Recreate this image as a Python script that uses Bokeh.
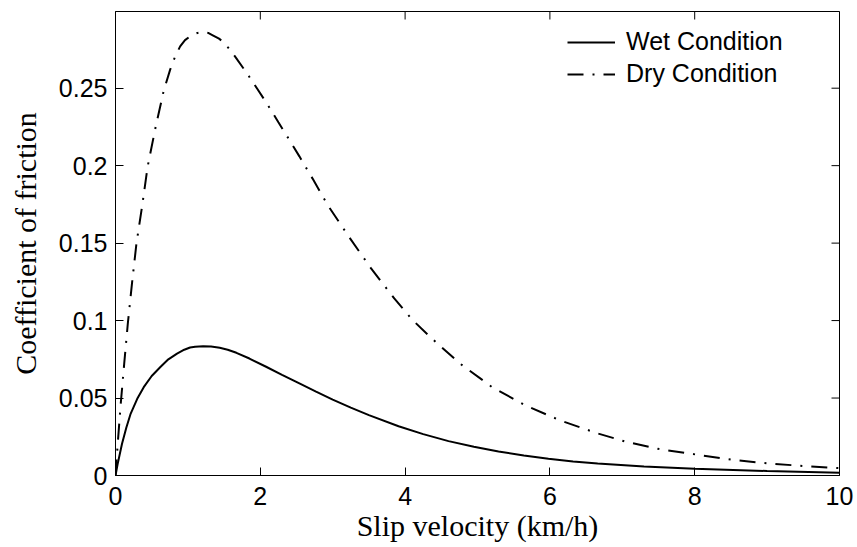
import math
from bokeh.plotting import figure
from bokeh.models import Range1d, FixedTicker, Legend, LegendItem
from bokeh.embed import file_html
from bokeh.resources import INLINE

# Data
wet_x = [0, 0.03, 0.09, 0.15, 0.21, 0.30, 0.39, 0.50, 0.62, 0.73, 0.85, 0.95, 1.03, 1.10,
         1.21, 1.32, 1.44, 1.55, 1.67, 1.85, 2.08, 2.30, 2.54, 2.77, 3.00, 3.25, 3.50,
         3.91, 4.25, 4.60, 4.95, 5.29, 5.64, 5.98, 6.32, 6.66, 7.30, 8.00, 9.00, 10.0]
wet_y = [0, 0.0075, 0.0205, 0.031, 0.040, 0.0495, 0.057, 0.0642, 0.070, 0.0750, 0.0787,
         0.0812, 0.0826, 0.0831, 0.0834, 0.0832, 0.0824, 0.0812, 0.0792, 0.0755, 0.0702,
         0.0650, 0.0595, 0.0542, 0.0490, 0.0438, 0.0390, 0.0318, 0.0267, 0.0222, 0.0186,
         0.0155, 0.0129, 0.0108, 0.0091, 0.0077, 0.0058, 0.0044, 0.0029, 0.0017]

dry_x = [0, 0.03, 0.07, 0.12, 0.17, 0.23, 0.29, 0.37, 0.444, 0.55, 0.664, 0.755, 0.82,
         0.893, 0.96, 1.03, 1.12, 1.21, 1.28, 1.35, 1.43, 1.51, 1.65, 1.81, 1.96, 2.11,
         2.25, 2.40, 2.54, 2.73, 2.93, 3.23, 3.53, 3.85, 4.10, 4.37, 4.76, 5.20, 5.66,
         6.14, 6.65, 7.05, 7.49, 8.01, 8.52, 9.04, 9.57, 10.0]
dry_y = [0, 0.020, 0.045, 0.072, 0.098, 0.125, 0.150, 0.1746, 0.1994, 0.224, 0.248, 0.262,
         0.2700, 0.2770, 0.2810, 0.2835, 0.2855, 0.2863, 0.2857, 0.2840, 0.2820, 0.2790,
         0.2705, 0.2600, 0.2495, 0.2387, 0.2280, 0.2167, 0.2060, 0.1910, 0.1746, 0.1537,
         0.1337, 0.1143, 0.1005, 0.0884, 0.0722, 0.0571, 0.0453, 0.0356, 0.0273, 0.0218,
         0.0172, 0.0136, 0.0101, 0.0077, 0.0059, 0.0048]

x_ticks = [0, 2, 4, 6, 8, 10]
x_tick_labels = ["0", "2", "4", "6", "8", "10"]
y_ticks = [0, 0.05, 0.1, 0.15, 0.2, 0.25]
y_tick_labels = ["0", "0.05", "0.1", "0.15", "0.2", "0.25"]

series_names = ["Wet Condition", "Dry Condition"]
x_title = "Slip velocity (km/h)"
y_title = "Coefficient of friction"

x_start, x_end = 0, 10
y_start, y_end = 0, 0.2995

p = figure(width=857, height=547, output_backend="svg", toolbar_location=None,
           x_range=Range1d(x_start, x_end), y_range=Range1d(y_start, y_end),
           min_border_left=115, min_border_right=18, min_border_top=11, min_border_bottom=72)
p.grid.visible = False
p.outline_line_color = "black"
p.outline_line_width = 1
p.background_fill_color = "white"
p.border_fill_color = "white"

wet = p.line(wet_x, wet_y, line_color="black", line_width=2)
dry = p.line(dry_x, dry_y, line_color="black", line_width=2, line_dash="16 9 2 9")

def style_axis(ax, ticks, labels):
    ax.ticker = FixedTicker(ticks=ticks)
    ax.major_label_overrides = {t: l for t, l in zip(ticks, labels)}
    ax.major_tick_in = 8
    ax.major_tick_out = 0
    ax.minor_tick_line_color = None
    ax.axis_line_color = "black"
    ax.axis_line_width = 1
    ax.major_tick_line_color = "black"
    ax.major_tick_line_width = 1
    ax.major_label_text_font = "Liberation Sans"
    ax.major_label_text_color = "black"
    ax.major_label_text_font_size = "25px"
    ax.axis_label_text_font = "Liberation Serif"
    ax.axis_label_text_font_size = "30px"
    ax.axis_label_text_font_style = "normal"
    ax.axis_label_text_color = "black"

style_axis(p.xaxis[0], x_ticks, x_tick_labels)
style_axis(p.yaxis[0], y_ticks, y_tick_labels)
p.xaxis[0].major_label_standoff = 11
p.yaxis[0].major_label_standoff = 8
p.xaxis[0].axis_label = x_title
p.yaxis[0].axis_label = y_title
p.xaxis[0].axis_label_standoff = 1
p.yaxis[0].axis_label_standoff = 14

# mirrored inward ticks on top and right edges (half of each dash is clipped by the frame)
p.scatter(x=x_ticks, y=[y_end] * len(x_ticks), marker="dash", size=16,
          angle=math.pi / 2, line_color="black", line_width=1)
p.scatter(x=[x_end] * len(y_ticks), y=y_ticks, marker="dash", size=16,
          line_color="black", line_width=1)

legend = Legend(items=[LegendItem(label=series_names[0], renderers=[wet]),
                       LegendItem(label=series_names[1], renderers=[dry])],
                location=(452, 387), border_line_color=None, background_fill_alpha=0,
                label_text_font="Liberation Sans", label_text_font_size="25px",
                label_text_color="black",
                glyph_width=48, label_standoff=11, spacing=3, padding=10, margin=0)
p.add_layout(legend)

open("out.html", "w").write(file_html(p, INLINE))
